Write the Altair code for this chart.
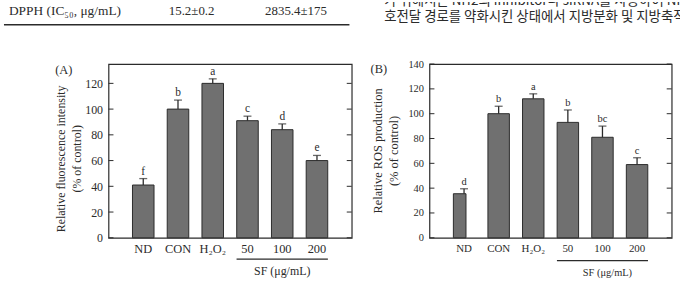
import altair as alt
import pandas as pd

# Treatment groups shared by both panels
groups = ["ND", "CON", "H₂O₂", "50", "100", "200"]

# (A) relative fluorescence intensity, % of control
a_values = [41, 100, 120, 91, 84, 60]
a_errors = [5, 7, 3.5, 3.5, 4.5, 4]
a_letters = ["f", "b", "a", "c", "d", "e"]
a_ticks = [0, 20, 40, 60, 80, 100, 120]

# (B) relative ROS production, % of control
b_values = [35.5, 100, 112, 93, 81, 59]
b_errors = [4, 6, 4, 10, 9, 5.5]
b_letters = ["d", "b", "a", "b", "bc", "c"]
b_ticks = [0, 20, 40, 60, 80, 100, 120, 140]

# Running text above the figure
table_row = ["DPPH (IC₅₀, μg/mL)", "15.2±0.2", "2835.4±175"]
body_lines = [
    "가 위해서는 Nrf2의 inhibitor나 siRNA를 사용하여 Nrf2",
    "호전달 경로를 약화시킨 상태에서 지방분화 및 지방축적",
]

SERIF = "Liberation Serif"
KR = "Noto Sans CJK KR"
INK = "#2b2b2b"
BAR = "#707070"


def panel(values, errors, letters, ymax, ticks, title, title_x, title_y,
          width, height, tick_fs, label_fs, title_fs, letter_fs, sf_fs,
          tag, tag_x, tag_y, line_dy, sf_dy, sf_dx, narrow_nd=False):
    df = pd.DataFrame({"group": groups, "value": values,
                       "err": errors, "letter": letters})
    df["top"] = df["value"] + df["err"]

    xscale = alt.Scale(domain=groups, paddingInner=0.38, paddingOuter=0.69)
    yscale = alt.Scale(domain=[0, ymax], nice=False)
    xaxis = alt.Axis(title=None, labelAngle=0, ticks=False, tickSize=0,
                     domain=False, labelPadding=5, labelFont=SERIF,
                     labelFontSize=label_fs, labelColor=INK)
    yaxis = alt.Axis(values=ticks, grid=False, ticks=False, tickSize=0,
                     domain=False, labelPadding=6, labelFont=SERIF,
                     labelFontSize=tick_fs, labelColor=INK,
                     title=title, titleX=title_x, titleY=title_y,
                     titleAngle=270, titleBaseline="middle",
                     titleAlign="center", titleFont=SERIF,
                     titleFontSize=title_fs, titleFontWeight="normal",
                     titleColor=INK, titleLineHeight=16)

    def X(field):
        return alt.X(f"{field}:N", scale=xscale, axis=xaxis)

    def Y(field):
        return alt.Y(f"{field}:Q", scale=yscale, axis=yaxis)

    base = alt.Chart(df)
    layers = []
    if narrow_nd:
        layers.append(base.transform_filter(alt.datum.group != "ND")
                      .mark_bar(color=BAR, stroke=INK, strokeWidth=1)
                      .encode(x=X("group"), y=Y("value")))
        layers.append(base.transform_filter(alt.datum.group == "ND")
                      .mark_bar(color=BAR, stroke=INK, strokeWidth=1,
                                width=12.7, xOffset=-4.4)
                      .encode(x=X("group"), y=Y("value")))
    else:
        layers.append(base.mark_bar(color=BAR, stroke=INK, strokeWidth=1)
                      .encode(x=X("group"), y=Y("value")))

    # upper error whisker with cap
    layers.append(base.mark_rule(color=INK, strokeWidth=1.3)
                  .encode(x=X("group"), y=Y("value"), y2="top:Q"))
    layers.append(base.mark_tick(color=INK, size=8, thickness=1.3)
                  .encode(x=X("group"), y=Y("top")))
    # significance letters
    layers.append(base.mark_text(font=SERIF, fontSize=letter_fs, color=INK,
                                 baseline="alphabetic", dy=-4)
                  .encode(x=X("group"), y=Y("top"), text="letter:N"))

    # inward ticks on both sides of the frame
    tdf = pd.DataFrame({"tick": ticks})
    layers.append(alt.Chart(tdf).mark_rule(color=INK, strokeWidth=1)
                  .encode(y=Y("tick"), x=alt.value(0), x2=alt.value(5)))
    layers.append(alt.Chart(tdf).mark_rule(color=INK, strokeWidth=1)
                  .encode(y=Y("tick"), x=alt.value(width - 5), x2=alt.value(width)))

    # bracket line and label under the SF doses (line reaches the outer bar edges)
    gdf = pd.DataFrame({"start": ["50"], "mid": ["100"], "end": ["200"],
                        "label": ["SF (μg/mL)"]})
    layers.append(alt.Chart(gdf).mark_rule(color=INK, strokeWidth=1.2,
                                           xOffset=-11, x2Offset=11)
                  .encode(x=X("start"), x2="end:N",
                          y=alt.value(height + line_dy)))
    layers.append(alt.Chart(gdf).mark_text(font=SERIF, fontSize=sf_fs, color=INK,
                                           baseline="middle", dx=sf_dx)
                  .encode(x=X("mid"), y=alt.value(height + sf_dy), text="label:N"))

    # panel tag
    layers.append(alt.Chart(pd.DataFrame({"t": [tag]}))
                  .mark_text(font=SERIF, fontSize=12.5, color=INK, baseline="middle")
                  .encode(text="t:N", x=alt.value(tag_x), y=alt.value(tag_y)))

    return alt.layer(*layers).properties(width=width, height=height)


HEIGHT = 175

pa = panel(a_values, a_errors, a_letters, 135, a_ticks,
           ["Relative fluorescence intensity", "(% of control)"], -48, 95,
           245, HEIGHT, 12, 12.5, 12, 11.5, 12,
           "(A)", -45, 6, 21.5, 33, 0)

pb = panel(b_values, b_errors, b_letters, 140, b_ticks,
           ["Relative ROS production", "(% of control)"], -52, 87,
           244, HEIGHT, 10.5, 11, 12.5, 10.5, 10.5,
           "(B)", -51, 5, 23, 35, 5, narrow_nd=True)

spacer = (alt.Chart(pd.DataFrame({"v": [0]}))
          .mark_point(opacity=0)
          .encode(x=alt.value(0), y=alt.value(0))
          .properties(width=26.7, height=HEIGHT,
                      view=alt.ViewBackground(stroke="transparent")))

# Strip of running text above the figure
one = pd.DataFrame({"v": [0]})
top_layers = [
    alt.Chart(one).mark_text(text=table_row[0], font=SERIF, fontSize=13.5, color=INK,
                             align="left", baseline="middle")
    .encode(x=alt.value(5), y=alt.value(9)),
    alt.Chart(one).mark_text(text=table_row[1], font=SERIF, fontSize=13, color=INK,
                             align="left", baseline="middle")
    .encode(x=alt.value(166), y=alt.value(9)),
    alt.Chart(one).mark_text(text=table_row[2], font=SERIF, fontSize=13, color=INK,
                             align="left", baseline="middle")
    .encode(x=alt.value(263), y=alt.value(9)),
    alt.Chart(one).mark_rule(color=INK, strokeWidth=1.5)
    .encode(x=alt.value(0), x2=alt.value(348), y=alt.value(23)),
    alt.Chart(one).mark_text(text=body_lines[0], font=KR, fontSize=13.5, color=INK,
                             align="left", baseline="middle", clip=True)
    .encode(x=alt.value(383), y=alt.value(-1)),
    alt.Chart(one).mark_text(text=body_lines[1], font=KR, fontSize=13.5, color=INK,
                             align="left", baseline="middle", clip=True)
    .encode(x=alt.value(383), y=alt.value(15)),
]
top = alt.layer(*top_layers).properties(
    width=681, height=30, view=alt.ViewBackground(stroke="transparent"))

row = alt.hconcat(spacer, pa, pb, spacing=78.3, bounds="flush")
chart = (alt.vconcat(top, row, spacing=32.5, bounds="flush")
         .properties(padding=0, background="white")
         .configure_view(stroke=INK, strokeWidth=1.2))

chart.save("out.html", embed_options={"renderer": "svg", "actions": False})
